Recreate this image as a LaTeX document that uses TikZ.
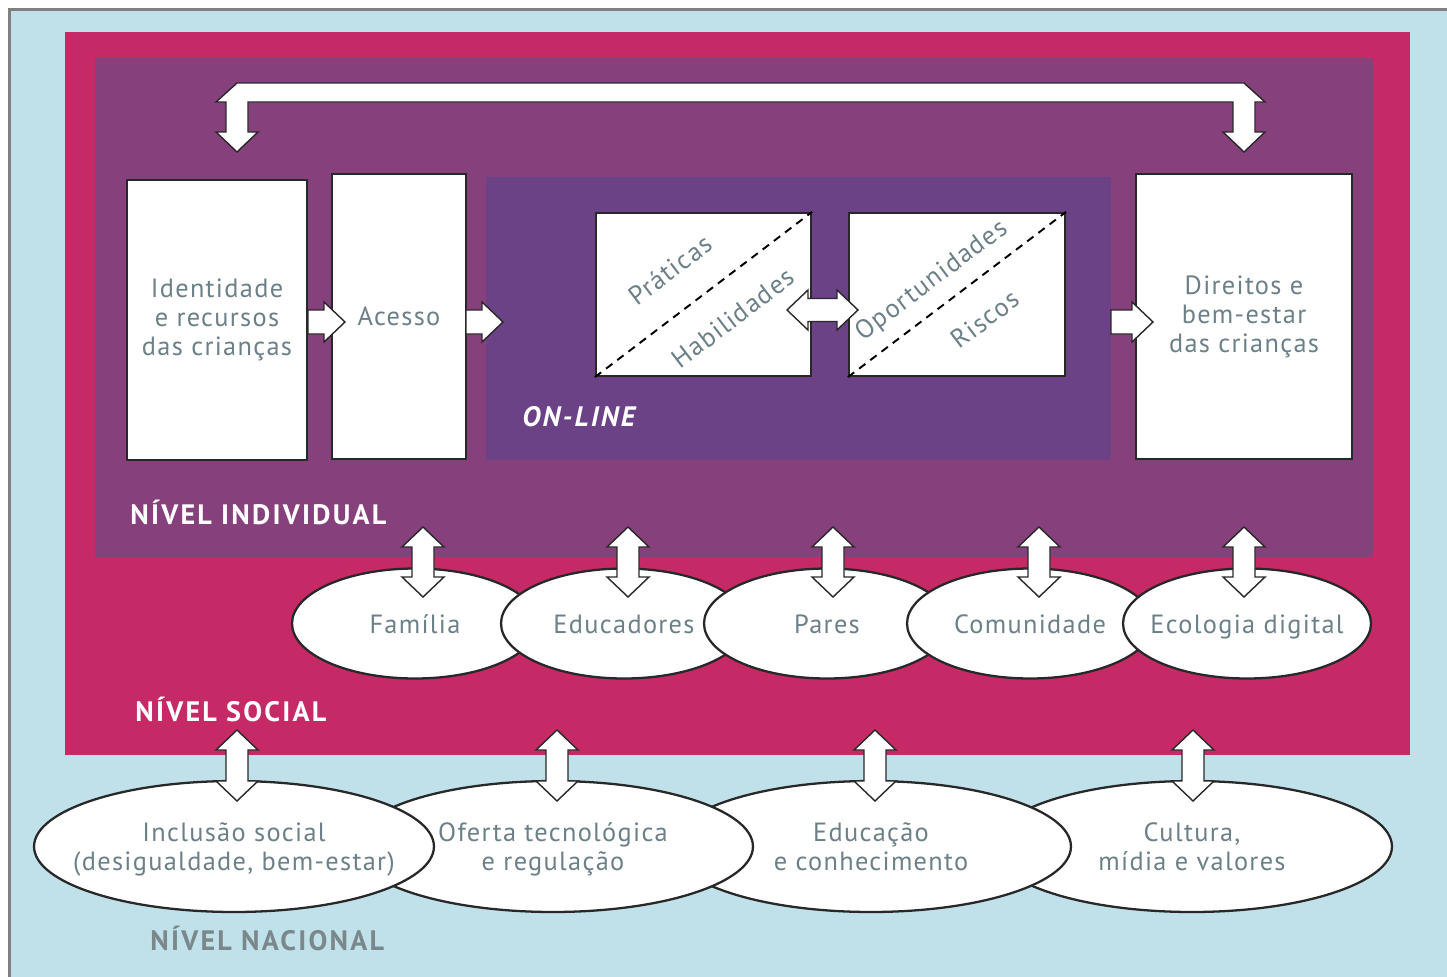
\documentclass[tikz,border=0pt]{standalone}
\usepackage{fontspec}
\setmainfont{PT Sans}
\usetikzlibrary{calc,shapes.geometric}

\definecolor{bgblue}{RGB}{192,225,234}
\definecolor{framegray}{RGB}{128,128,128}
\definecolor{socialc}{RGB}{197,42,102}
\definecolor{indivc}{RGB}{134,64,124}
\definecolor{onlinec}{RGB}{106,66,133}
\definecolor{txtgray}{RGB}{108,128,136}
\definecolor{nacgray}{RGB}{122,136,140}
\definecolor{boxline}{RGB}{40,40,40}

\newcommand{\txtsize}{\fontsize{15}{16.5}\selectfont\addfontfeature{LetterSpace=5}}
\newcommand{\lvlsize}{\bfseries\fontsize{16}{18}\selectfont\addfontfeature{LetterSpace=8}}
% block arrows, all sizes in px of the picture grid
\newcommand{\rightblock}[2]{\draw[blockarr] ($(#1)+(0,-12)$) -- ($(#2)+(-21,-12)$) -- ++(0,-8) -- (#2) -- ++(-21,20) -- ++(0,-8) -- ($(#1)+(0,12)$) -- cycle;}
\newcommand{\horzblock}[2]{\draw[blockarr] (#1) -- ++(21,-20) -- ++(0,8.5) -- ($(#2)+(-21,-11.5)$) -- ++(0,-8.5) -- (#2) -- ++(-21,20) -- ++(0,-8.5) -- ($(#1)+(21,11.5)$) -- ++(0,8.5) -- cycle;}
\newcommand{\vertblock}[2]{\draw[blockarr] (#1) -- ++(21,20) -- ++(-10,0) -- ($(#2)+(11,-20)$) -- ++(10,0) -- (#2) -- ++(-21,-20) -- ++(10,0) -- ($(#1)+(-11,20)$) -- ++(-10,0) -- cycle;}

\begin{document}
\begin{tikzpicture}[x=0.02cm,y=-0.02cm,
  box/.style={draw=boxline,line width=1.3pt,fill=white,text=txtgray,align=center,font=\txtsize},
  elip/.style={ellipse,draw=boxline,line width=1.3pt,fill=white,inner sep=0pt},
  txt/.style={text=txtgray,align=center,font=\txtsize},
  onetxt/.style={txt,text height=11pt,text depth=0pt},
  twotxt/.style={txt,yshift=-1.6pt},
  diag/.style={txt,inner sep=0pt},
  blockarr/.style={draw=boxline,fill=white,line width=0.8pt,line join=miter},
  level/.style={text=white,font=\lvlsize,anchor=base west,inner sep=0pt}]
\useasboundingbox (0,0) rectangle (1447,977);
\fill[white] (0,0) rectangle (1447,977);
\draw[fill=bgblue,draw=framegray,line width=2.2pt] (9.5,9.5) rectangle (1470,1000);

% levels
\fill[socialc] (65,32) rectangle (1410,755);
\fill[indivc] (95,58) rectangle (1373,557);
\node[fill=onlinec,minimum width=12.5cm,minimum height=5.66cm,inner sep=0pt] (online) at (798.5,318.5) {};

\node[level] (nindiv) at (130,524) {NÍVEL INDIVIDUAL};
\node[level] (nsocial) at (135,721) {NÍVEL SOCIAL};
\node[level,text=nacgray] (nnacional) at (150,950) {NÍVEL NACIONAL};
\node[level,font=\lvlsize\itshape] (nonline) at (522,426) {ON-LINE};

% individual boxes
\node[box,minimum width=3.6cm,minimum height=5.6cm] (iden) at (217,320) {Identidade\\e recursos\\das crianças};
\node[box,minimum width=2.68cm,minimum height=5.7cm] (acesso) at (399,316.5) {Acesso};
\node[box,minimum width=4.3cm,minimum height=3.26cm] (prat) at (703.5,294.5) {};
\node[box,minimum width=4.32cm,minimum height=3.26cm] (oport) at (957,294.5) {};
\node[box,minimum width=4.32cm,minimum height=5.7cm] (dir) at (1244,316.5) {Direitos e\\bem-estar\\das crianças};

\draw[dashed,dash pattern=on 4.5pt off 3.5pt,line width=1.1pt] (prat.south west) -- (prat.north east);
\draw[dashed,dash pattern=on 4.5pt off 3.5pt,line width=1.1pt] (oport.south west) -- (oport.north east);
\node[diag,rotate=37.3] (pratA) at (670,270) {Práticas};
\node[diag,rotate=37.3] (pratB) at (733,318) {Habilidades};
\node[diag,rotate=37] (oportA) at (932,281) {Oportunidades};
\node[diag,rotate=37] (oportB) at (985,319) {Riscos};

% arrows inside the individual level
\coordinate (a1) at (308,322); \coordinate (a2) at (345,322);
\coordinate (b1) at (466,322); \coordinate (b2) at (503,322);
\coordinate (c1) at (1111,322); \coordinate (c2) at (1153,322);
\coordinate (d1) at (787,310); \coordinate (d2) at (858,310);
\rightblock{a1}{a2}
\rightblock{b1}{b2}
\rightblock{c1}{c2}
\horzblock{d1}{d2}

% top link
\coordinate (barL) at (237,83); \coordinate (barR) at (1244,83);
\coordinate (identip) at (237,152); \coordinate (dirtip) at (1244,152);
\draw[blockarr] (barL) -- (barR) -- ++(21,19) -- ++(-10,0) -- ($(dirtip)+(11,-20)$) -- ++(10,0) -- (dirtip) -- ++(-21,-20) -- ++(10,0) -- ($(barR)+(-11,19)$) -- ($(barL)+(11,19)$) -- ($(identip)+(11,-20)$) -- ++(10,0) -- (identip) -- ++(-21,-20) -- ++(10,0) -- ($(barL)+(-11,19)$) -- ++(-10,0) -- cycle;

% social level
\node[elip,minimum width=4.92cm,minimum height=2.2cm,label={[onetxt]center:Família}] (fam) at (415,623.5) {};
\node[elip,minimum width=4.92cm,minimum height=2.2cm,label={[onetxt]center:Educadores}] (edu) at (624,623.5) {};
\node[elip,minimum width=4.92cm,minimum height=2.2cm,label={[onetxt]center:Pares}] (par) at (827,623.5) {};
\node[elip,minimum width=4.92cm,minimum height=2.2cm,label={[onetxt]center:Comunidade}] (com) at (1030,623.5) {};
\node[elip,minimum width=4.96cm,minimum height=2.2cm,label={[onetxt]center:Ecologia digital}] (eco) at (1247,623.5) {};

\foreach \x in {423,628,833,1039,1244} {
  \coordinate (st) at (\x,527); \coordinate (sb) at (\x,597);
  \vertblock{st}{sb}
}

% national level
\node[elip,minimum width=8cm,minimum height=2.62cm,label={[txt]center:{Cultura,\\mídia e valores}}] (cul) at (1192,846.5) {};
\node[elip,minimum width=8cm,minimum height=2.62cm,label={[txt]center:{Educação\\e conhecimento}}] (educ) at (871,846.5) {};
\node[elip,minimum width=8cm,minimum height=2.62cm,label={[twotxt]center:{Oferta tecnológica\\e regulação}}] (ofe) at (553,846.5) {};
\node[elip,minimum width=8cm,minimum height=2.62cm,label={[twotxt]center:{Inclusão social\\(desigualdade, bem-estar)}}] (inc) at (234,846.5) {};

\foreach \x in {237,557,875,1193} {
  \coordinate (nt) at (\x,730); \coordinate (nb) at (\x,801);
  \vertblock{nt}{nb}
}
\end{tikzpicture}
\end{document}
